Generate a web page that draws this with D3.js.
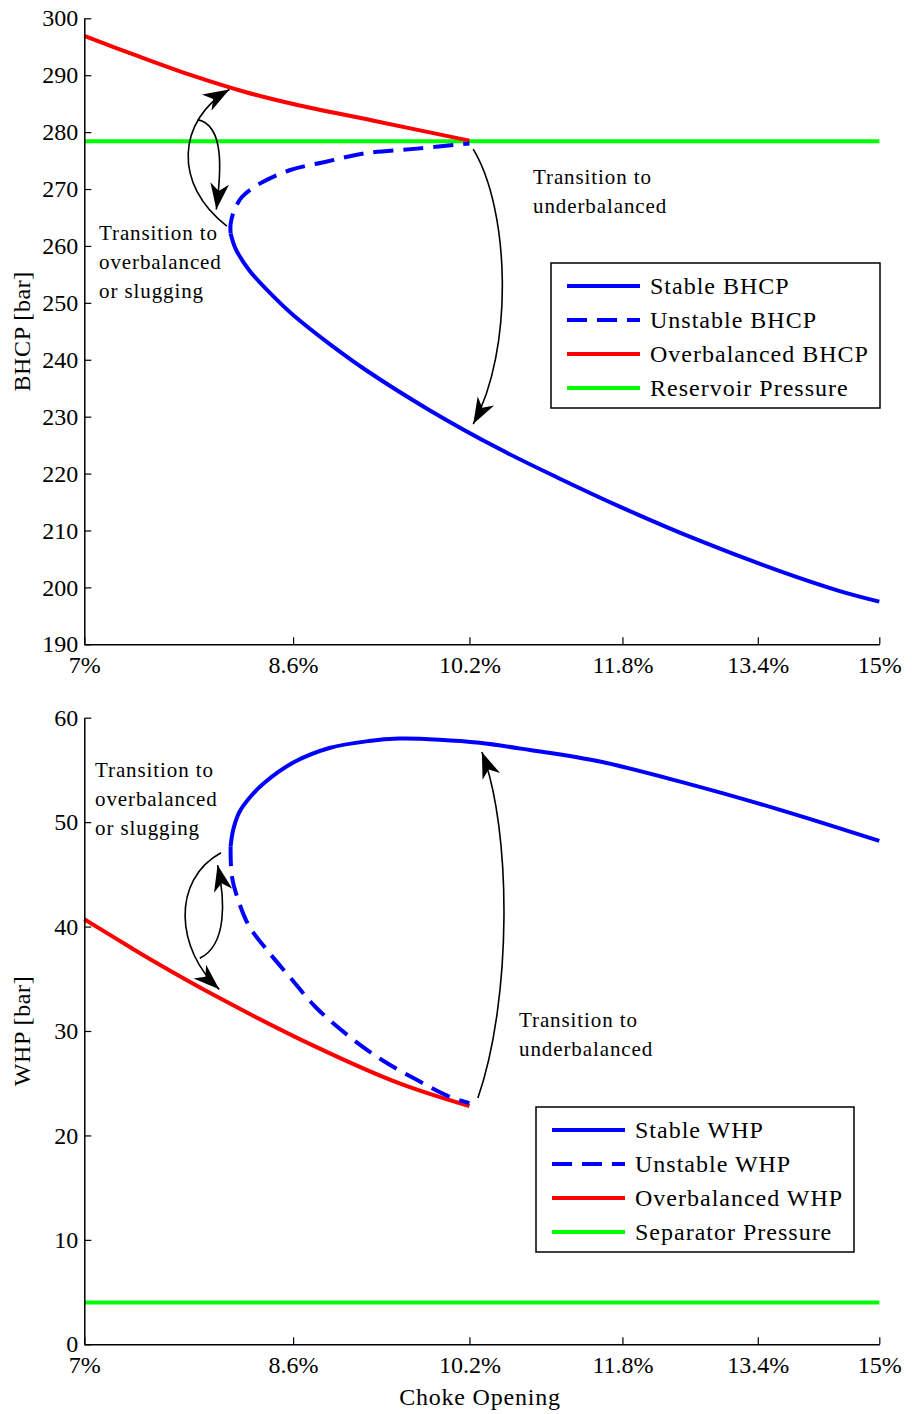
<!DOCTYPE html>
<html>
<head>
<meta charset="utf-8">
<script src="https://cdn.jsdelivr.net/npm/d3@7"></script>
<style>
  body { margin: 0; background: #fff; }
  text { font-family: "Liberation Serif", "Times New Roman", serif; fill: #000; }
</style>
</head>
<body>
<script>
// ---------- data (choke opening %, pressure bar) ----------
const xTicks = [7, 8.6, 10.2, 11.8, 13.4, 15];
const bhcpTicks = [190, 200, 210, 220, 230, 240, 250, 260, 270, 280, 290, 300];
const whpTicks = [0, 10, 20, 30, 40, 50, 60];

const bhcpStable = [[8.09,262.2],[8.13,259.5],[8.24,255.7],[8.51,249.6],[8.61,247.7],[8.91,242.8],[9.26,237.8],[9.82,231.1],[10.5,224.3],[11.12,219.1],[11.77,214.2],[12.69,208.2],[13.67,202.9],[14.45,199.4],[15,197.5]];
const bhcpUnstable = [[8.09,262.2],[8.09,263.9],[8.12,266.3],[8.18,268.6],[8.32,270.9],[8.57,273.3],[8.88,274.8],[9.23,276.3],[9.70,277.1],[10.2,278.0]];
const bhcpOver = [[7,296.9],[7.4,293.2],[7.77,290.1],[8.2,287.1],[8.61,284.9],[9.3,282.0],[10.2,278.5]];
const reservoirPressure = 278.4;

const whpStable = [[8.09,47.7],[8.11,49.25],[8.16,50.97],[8.24,52.31],[8.36,53.75],[8.61,55.76],[8.91,57.1],[9.26,57.77],[9.53,58.0],[9.91,57.9],[10.3,57.6],[10.81,56.9],[11.55,55.8],[12.45,53.9],[13.67,51.2],[15,48.2]];
const whpUnstable = [[8.09,47.7],[8.10,44.8],[8.16,42.2],[8.24,40.0],[8.38,37.8],[8.57,35.2],[8.79,32.3],[9.08,29.5],[9.38,27.2],[9.70,25.3],[10.01,23.7],[10.2,23.1]];
const whpOver = [[7,40.7],[7.33,38.0],[7.47,36.9],[7.98,33.3],[8.79,28.5],[9.53,25.0],[10.2,22.8]];
const separatorPressure = 4.0;

// annotation arrows (cubic curves, data coords)
const bhcpArrows = [
  [[8.06,263.5],[7.643,270.7],[7.673,282.1],[8.08,287.5]],
  [[7.832,282.2],[8.041,281.2],[8.017,273.3],[7.977,266.4]],
  [[10.237,277.0],[10.604,266.3],[10.645,241.7],[10.237,228.7]]
];
const whpArrows = [
  [[8.014,47.07],[7.628,44.46],[7.666,37.76],[8.0,33.99]],
  [[7.848,36.96],[8.063,38.24],[8.047,42.55],[7.987,45.89]],
  [[10.283,23.59],[10.624,32.97],[10.624,49.25],[10.322,56.72]]
];

const bhcpLegend = ["Stable BHCP", "Unstable BHCP", "Overbalanced BHCP", "Reservoir Pressure"];
const whpLegend = ["Stable WHP", "Unstable WHP", "Overbalanced WHP", "Separator Pressure"];

// ---------- drawing ----------
const W = 912, H = 1414;
const FONT = '"Liberation Serif", "Times New Roman", serif';
const svg = d3.select("body").append("svg").attr("width", W).attr("height", H);

const defs = svg.append("defs");
defs.append("marker")
  .attr("id", "ah").attr("markerUnits", "userSpaceOnUse")
  .attr("markerWidth", 30).attr("markerHeight", 30)
  .attr("viewBox", "-22 -10 24 20").attr("refX", 0).attr("refY", 0)
  .attr("orient", "auto")
  .append("path").attr("d", "M0,0 L-21,-7.5 L-15,0 L-21,7.5 Z").attr("fill", "#000");

const x = d3.scalePow().exponent(0.1).domain([7, 15]).range([84.3, 879.3]);

const colors = { stable: "#0000ff", over: "#ff0000", ref: "#00ff00" };

function panel(cfg) {
  const y = d3.scaleLinear().domain(cfg.yDomain).range(cfg.yRange);
  const g = svg.append("g");
  const line = d3.line().x(d => x(d[0])).y(d => y(d[1])).curve(d3.curveCatmullRom.alpha(0.5));

  // reference line
  g.append("line")
    .attr("x1", x(7)).attr("x2", x(15))
    .attr("y1", y(cfg.refValue)).attr("y2", y(cfg.refValue))
    .attr("stroke", colors.ref).attr("stroke-width", 4);

  g.append("path").attr("d", line(cfg.over)).attr("fill", "none")
    .attr("stroke", colors.over).attr("stroke-width", 4);
  g.append("path").attr("d", line(cfg.unstable)).attr("fill", "none")
    .attr("stroke", colors.stable).attr("stroke-width", 4).attr("stroke-dasharray", "20,10");
  g.append("path").attr("d", line(cfg.stable)).attr("fill", "none")
    .attr("stroke", colors.stable).attr("stroke-width", 4);

  // axes
  const xa = g.append("g").attr("transform", `translate(0,${cfg.yRange[0]})`)
    .call(d3.axisBottom(x).tickValues(xTicks).tickFormat(d => d + "%").tickSizeInner(-7).tickSizeOuter(0).tickPadding(12));
  const ya = g.append("g").attr("transform", `translate(${x(7)},0)`)
    .call(d3.axisLeft(y).tickValues(cfg.yTicks).tickSizeInner(-7).tickSizeOuter(0).tickPadding(6));
  [xa, ya].forEach(a => {
    a.attr("font-family", FONT).attr("font-size", 24);
    a.select(".domain").attr("stroke", "#000").attr("stroke-width", 1.5);
    a.selectAll(".tick line").attr("stroke", "#000").attr("stroke-width", 1.2);
    a.selectAll(".tick text").attr("font-family", FONT).style("font-family", FONT).style("font-size", "24px").attr("fill", "#000");
  });

  // y label
  g.append("text")
    .attr("transform", `translate(30,${(cfg.yRange[0] + cfg.yRange[1]) / 2}) rotate(-90)`)
    .attr("text-anchor", "middle").style("font-size", "24px").style("letter-spacing", "0.6px")
    .text(cfg.yLabel);

  // arrows
  g.selectAll("path.arrow").data(cfg.arrows).join("path").attr("class", "arrow")
    .attr("d", a => `M${x(a[0][0])},${y(a[0][1])} C${x(a[1][0])},${y(a[1][1])} ${x(a[2][0])},${y(a[2][1])} ${x(a[3][0])},${y(a[3][1])}`)
    .attr("fill", "none").attr("stroke", "#000").attr("stroke-width", 1.6)
    .attr("marker-end", "url(#ah)");

  // annotation texts
  cfg.notes.forEach(n => {
    n.lines.forEach((t, i) => {
      g.append("text").attr("x", n.x).attr("y", n.y + i * 29)
        .style("font-size", "21px").style("letter-spacing", "0.9px").text(t);
    });
  });

  // legend
  const L = cfg.legend;
  const lg = g.append("g");
  lg.append("rect").attr("x", L.x).attr("y", L.y).attr("width", L.w).attr("height", L.h)
    .attr("fill", "#fff").attr("stroke", "#000").attr("stroke-width", 1.5);
  const items = [
    { c: colors.stable, dash: null },
    { c: colors.stable, dash: "20,10" },
    { c: colors.over, dash: null },
    { c: colors.ref, dash: null }
  ];
  items.forEach((it, i) => {
    const cy = L.y + 23 + i * 34;
    lg.append("line").attr("x1", L.x + 16).attr("x2", L.x + 89).attr("y1", cy).attr("y2", cy)
      .attr("stroke", it.c).attr("stroke-width", 4).attr("stroke-dasharray", it.dash);
    lg.append("text").attr("x", L.x + 99).attr("y", cy + 8)
      .style("font-size", "24px").style("letter-spacing", "1px").text(L.labels[i]);
  });
}

panel({
  yDomain: [190, 300], yRange: [644.3, 18.3], yTicks: bhcpTicks,
  stable: bhcpStable, unstable: bhcpUnstable, over: bhcpOver, refValue: reservoirPressure,
  yLabel: "BHCP [bar]", arrows: bhcpArrows,
  notes: [
    { x: 533, y: 184, lines: ["Transition to", "underbalanced"] },
    { x: 99, y: 240, lines: ["Transition to", "overbalanced", "or slugging"] }
  ],
  legend: { x: 551, y: 263, w: 329, h: 145, labels: bhcpLegend }
});

panel({
  yDomain: [0, 60], yRange: [1344.3, 717.7], yTicks: whpTicks,
  stable: whpStable, unstable: whpUnstable, over: whpOver, refValue: separatorPressure,
  yLabel: "WHP [bar]", arrows: whpArrows,
  notes: [
    { x: 95, y: 777, lines: ["Transition to", "overbalanced", "or slugging"] },
    { x: 519, y: 1027, lines: ["Transition to", "underbalanced"] }
  ],
  legend: { x: 536, y: 1107, w: 318, h: 145, labels: whpLegend }
});

svg.append("text").attr("x", 480).attr("y", 1405).attr("text-anchor", "middle")
  .style("font-size", "24px").style("letter-spacing", "0.8px").text("Choke Opening");
</script>
</body>
</html>
